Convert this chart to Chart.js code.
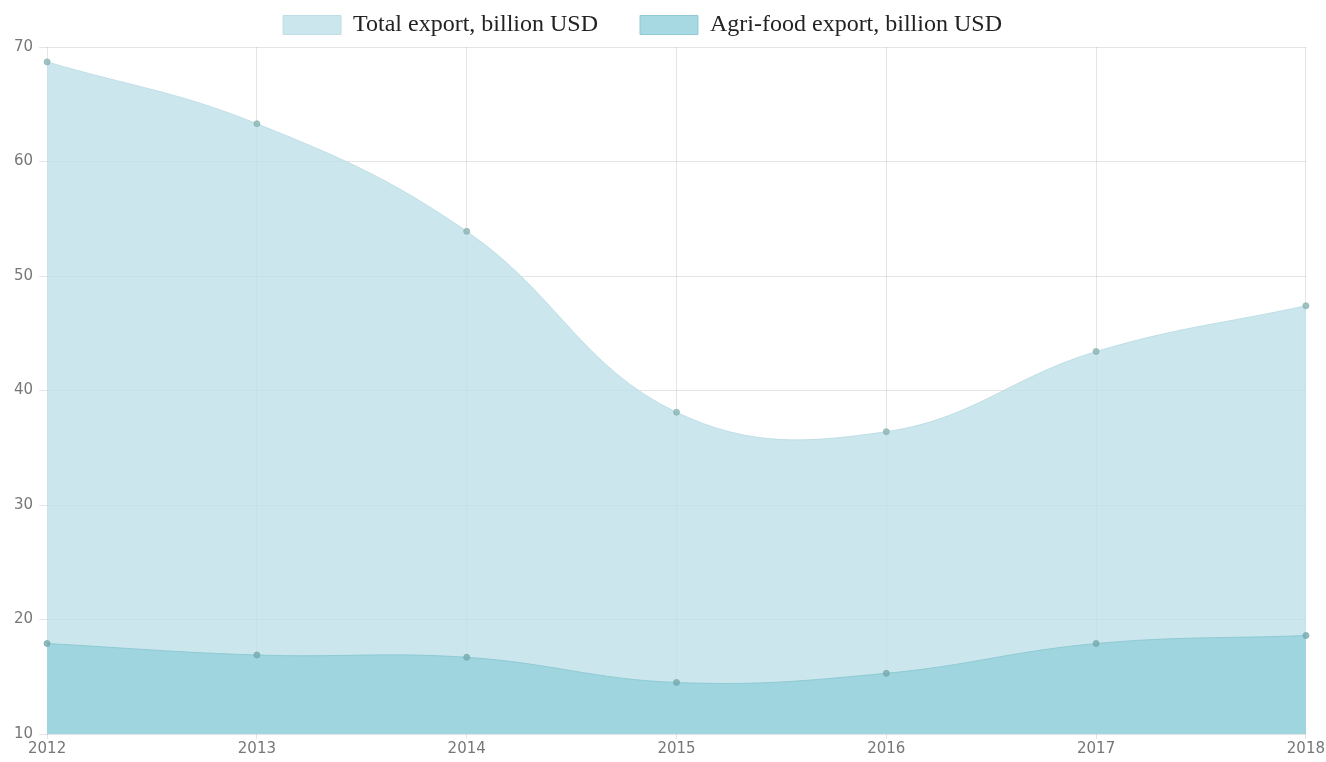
<!DOCTYPE html>
<html>
<head>
<meta charset="utf-8">
<script src="https://cdn.jsdelivr.net/npm/chart.js@4"></script>
<style>
  html, body { margin: 0; padding: 0; background: #fff; }
  #wrap { width: 1326px; height: 762px; }
</style>
</head>
<body>
<div id="wrap"><canvas id="chart1"></canvas></div>
<script>
const years = ['2012', '2013', '2014', '2015', '2016', '2017', '2018'];
const totalExport = [68.7, 63.3, 53.9, 38.1, 36.4, 43.4, 47.4];
const agriExport = [17.9, 16.9, 16.7, 14.5, 15.3, 17.9, 18.6];

Chart.defaults.font.family = '"DejaVu Sans", sans-serif';
Chart.defaults.color = '#777';

// a bit of trailing room after each legend text, like the original spacing
const legendGap = '\u00a0\u00a0\u00a0\u00a0\u00a0';

var ctx = document.getElementById('chart1').getContext('2d');

var chart1 = new Chart(ctx, {
  type: 'line',
  data: {
    labels: years,
    datasets: [{
      label: 'Agri-food export, billion USD',
      data: agriExport,
      fill: 'origin',
      backgroundColor: 'rgba(150, 210, 220, 0.85)',
      borderColor: 'rgba(140, 200, 210, 0.9)',
      borderWidth: 1,
      pointRadius: 3,
      pointBackgroundColor: 'rgba(120, 170, 175, 0.8)',
      pointBorderColor: 'rgba(120, 170, 175, 0.8)',
      tension: 0.4,
      order: 1
    },
    {
      label: 'Total export, billion USD',
      data: totalExport,
      fill: 'origin',
      backgroundColor: 'rgba(190, 225, 232, 0.8)',
      borderColor: 'rgba(185, 220, 228, 0.9)',
      borderWidth: 1,
      pointRadius: 3,
      pointBackgroundColor: 'rgba(140, 180, 180, 0.8)',
      pointBorderColor: 'rgba(140, 180, 180, 0.8)',
      tension: 0.4,
      order: 2
    }]
  },
  options: {
    responsive: true,
    maintainAspectRatio: false,
    animation: false,
    layout: { padding: { left: 8, right: 19, top: 1, bottom: 3 } },
    plugins: {
      legend: {
        reverse: true,
        labels: {
          boxWidth: 58,
          boxHeight: 19,
          padding: 12,
          color: '#222',
          font: { family: '"Liberation Serif", "Times New Roman", serif', size: 24 },
          generateLabels(chart) {
            const items = Chart.defaults.plugins.legend.labels.generateLabels(chart);
            items.forEach(function(it) { it.text = it.text + legendGap; });
            return items;
          }
        }
      },
      tooltip: { enabled: false }
    },
    scales: {
      x: {
        grid: { color: 'rgba(0,0,0,0.1)', tickLength: 5 },
        border: { display: false },
        ticks: { font: { size: 15 }, padding: 1 }
      },
      y: {
        min: 10,
        max: 70,
        grid: { color: 'rgba(0,0,0,0.1)', tickLength: 8 },
        border: { display: false },
        ticks: { stepSize: 10, font: { size: 15 }, padding: 6 }
      }
    }
  }
});
</script>
</body>
</html>
